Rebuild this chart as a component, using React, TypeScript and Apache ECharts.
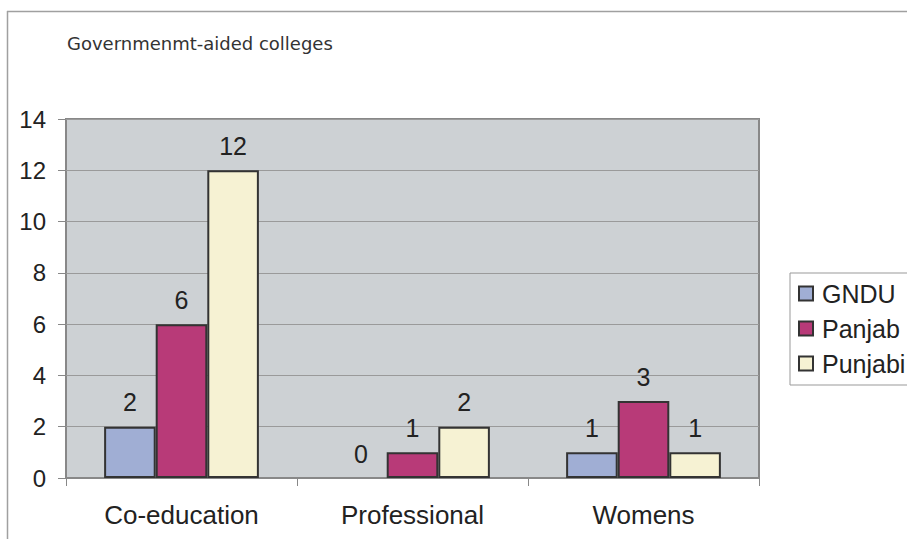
import React, { useEffect, useRef } from "react";
import * as echarts from "echarts";

const categories = ["Co-education", "Professional", "Womens"];
const gndu = [2, 0, 1];
const panjab = [6, 1, 3];
const punjabi = [12, 2, 1];
const seriesNames = ["GNDU", "Panjab", "Punjabi"];
const colors = ["#a0aed4", "#b83a78", "#f6f2d3"];
const title = "Governmenmt-aided colleges";

export default function App() {
  const ref = useRef<HTMLDivElement>(null);
  useEffect(() => {
    const chart = echarts.init(ref.current!, null, { renderer: "svg" });
    const font = "'Liberation Sans', Arial, sans-serif";
    const data = [gndu, panjab, punjabi];
    chart.setOption({
      animation: false,
      backgroundColor: "#ffffff",
      title: {
        text: title,
        left: 62,
        top: 29,
        textStyle: { fontFamily: "'DejaVu Sans', Verdana, sans-serif", fontSize: 18, fontWeight: "normal", color: "#333" },
      },
      graphic: [
        { type: "line", shape: { x1: 7, y1: 11.5, x2: 907, y2: 11.5 }, style: { stroke: "#a0a0a0", lineWidth: 1.5 } },
        { type: "line", shape: { x1: 7.5, y1: 11, x2: 7.5, y2: 539 }, style: { stroke: "#a0a0a0", lineWidth: 1.5 } },
      ],
      legend: {
        orient: "vertical",
        left: 790,
        top: 273,
        padding: [8, 30, 9, 8],
        itemGap: 10,
        itemWidth: 14,
        itemHeight: 14,
        icon: "rect",
        backgroundColor: "#ffffff",
        borderColor: "#999",
        borderWidth: 1,
        textStyle: { fontFamily: font, fontSize: 25, color: "#222", padding: [0, 0, 0, 4] },
        data: seriesNames,
      },
      grid: {
        left: 66,
        right: 148,
        top: 119,
        bottom: 61,
        show: true,
        backgroundColor: "#cdd1d4",
        borderColor: "#888",
        borderWidth: 2,
      },
      xAxis: {
        type: "category",
        data: categories,
        axisLine: { show: true, lineStyle: { color: "#888", width: 2 } },
        axisTick: { show: true, length: 8, alignWithLabel: false, lineStyle: { color: "#888" } },
        axisLabel: { fontFamily: font, fontSize: 26, color: "#222", margin: 24 },
      },
      yAxis: {
        type: "value",
        min: 0,
        max: 14,
        interval: 2,
        axisLine: { show: false },
        axisTick: { show: true, length: 8, lineStyle: { color: "#888" } },
        axisLabel: { fontFamily: font, fontSize: 24, color: "#222", margin: 20 },
        splitLine: { show: true, lineStyle: { color: "#9a9a9a", width: 1 } },
      },
      series: seriesNames.map((name, i) => ({
        name,
        type: "bar",
        data: data[i].map((v) => (v === 0 ? { value: v, itemStyle: { borderWidth: 0 } } : v)),
        barGap: "0%",
        barCategoryGap: "33%",
        itemStyle: { color: colors[i], borderColor: "#333", borderWidth: 2 },
        label: {
          show: true,
          position: "top",
          distance: 12,
          fontFamily: font,
          fontSize: 25,
          color: "#222",
        },
      })),
    });
    return () => chart.dispose();
  }, []);
  return <div ref={ref} style={{ width: 907, height: 539, position: "absolute", left: 0, top: 0 }} />;
}
